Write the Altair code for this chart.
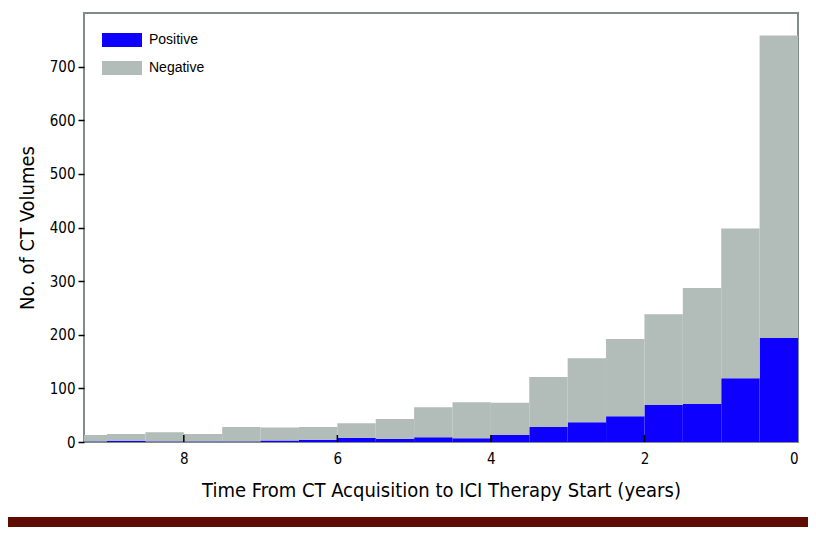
import altair as alt
import pandas as pd

# Histogram bins (years before ICI therapy start), width 0.5
bin_start = [0.0, 0.5, 1.0, 1.5, 2.0, 2.5, 3.0, 3.5, 4.0, 4.5,
             5.0, 5.5, 6.0, 6.5, 7.0, 7.5, 8.0, 8.5, 9.0]
bin_end = [0.5, 1.0, 1.5, 2.0, 2.5, 3.0, 3.5, 4.0, 4.5, 5.0,
           5.5, 6.0, 6.5, 7.0, 7.5, 8.0, 8.5, 9.0, 9.5]
total_counts = [758, 398, 287, 238, 192, 156, 121, 73, 74, 65,
                43, 35, 28, 27, 28, 15, 18, 15, 13]
positive_counts = [194, 119, 71, 69, 48, 37, 28, 13, 7, 9,
                   6, 8, 4, 3, 1, 1, 1, 2, 1]

classes = ["Positive", "Negative"]
class_colors = ["#0d00ff", "#b2bcb9"]
x_tick_values = [0, 2, 4, 6, 8]
inner_tick_values = [2, 4, 6, 8]
y_tick_values = [0, 100, 200, 300, 400, 500, 600, 700]

rows = []
for s, e, t, p in zip(bin_start, bin_end, total_counts, positive_counts):
    rows.append({"start": s, "end": e, "cls": "Positive", "lo": 0, "hi": p})
    rows.append({"start": s, "end": e, "cls": "Negative", "lo": p, "hi": t})
df = pd.DataFrame(rows)

COND = "DejaVu Sans Condensed, Roboto, sans-serif"
W, H = 714, 429
xscale = alt.Scale(domain=[0, 9.3], reverse=True, nice=False, zero=False)

bars = alt.Chart(df).mark_rect(clip=True).encode(
    x=alt.X("start:Q", scale=xscale,
            axis=alt.Axis(values=x_tick_values, format="d", ticks=False,
                          labelPadding=9, grid=False, domain=False,
                          title="Time From CT Acquisition to ICI Therapy Start (years)",
                          titlePadding=14)),
    x2="end:Q",
    y=alt.Y("lo:Q",
            scale=alt.Scale(domain=[0, 800], nice=False),
            axis=alt.Axis(values=y_tick_values, grid=False, domain=False,
                          tickSize=6, tickColor="black", tickWidth=1.5,
                          labelPadding=3, title="No. of CT Volumes",
                          titlePadding=12)),
    y2="hi:Q",
    color=alt.Color("cls:N", scale=alt.Scale(domain=classes, range=class_colors),
                    legend=alt.Legend(title=None, orient="none", legendX=18, legendY=20,
                                      symbolType="M-1,-0.35L1,-0.35L1,0.35L-1,0.35Z",
                                      symbolSize=1600, symbolStrokeWidth=0,
                                      symbolOpacity=1, clipHeight=14, rowPadding=14,
                                      labelOffset=7, labelFont="Liberation Sans",
                                      labelFontSize=14, labelColor="black", padding=0)),
)

ticks_df = pd.DataFrame({"t": inner_tick_values})
inner_ticks = alt.Chart(ticks_df).mark_rule(color="black", strokeWidth=1.5).encode(
    x=alt.X("t:Q", scale=xscale),
    y=alt.value(H),
    y2=alt.value(H - 7),
)

band = alt.Chart(alt.Data(values=[{"a": 1}])).mark_rect(color="#600b02").encode(
    x=alt.value(-90), x2=alt.value(740), y=alt.value(504), y2=alt.value(540)
)

chart = alt.layer(bars, inner_ticks, band).properties(
    width=W, height=H,
    autosize=alt.AutoSizeParams(type="none"),
    padding={"left": 76, "top": 5, "right": 10, "bottom": 85},
    background="white",
).configure_view(
    stroke="#7f8c8a", strokeWidth=2
).configure_axis(
    labelFont=COND, labelFontSize=15, labelColor="black",
    titleFont=COND, titleFontSize=20, titleColor="black",
    titleFontWeight="normal",
)

chart.save("out.html", embed_options={"renderer": "svg", "actions": False})
